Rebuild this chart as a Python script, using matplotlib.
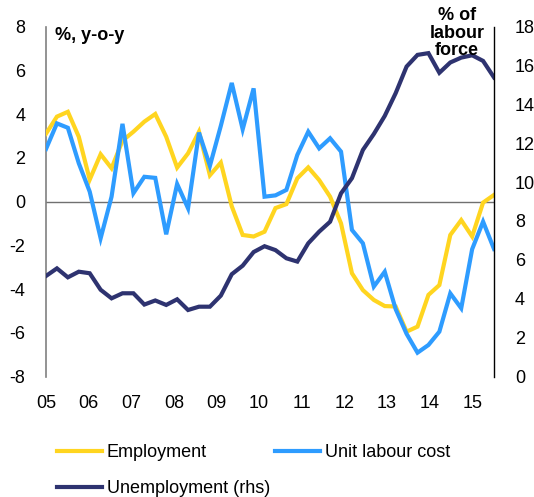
import matplotlib
matplotlib.use("Agg")
import matplotlib.pyplot as plt
import numpy as np

plt.rcParams['font.family'] = ['Liberation Sans', 'DejaVu Sans']

# Quarterly observations (index 0 = 2005Q1)
employment = [3.1, 3.88, 4.1, 2.96, 1.0, 2.16, 1.52, 2.78, 3.19, 3.65, 4.0,
              2.96, 1.55, 2.2, 3.19, 1.2, 1.78, -0.22, -1.53, -1.6, -1.38,
              -0.3, -0.12, 1.06, 1.56, 0.98, 0.22, -1.0, -3.28, -4.05, -4.5,
              -4.78, -4.8, -5.95, -5.72, -4.27, -3.82, -1.53, -0.85, -1.6,
              -0.05, 0.3]
unit_labour_cost = [2.4, 3.57, 3.37, 1.75, 0.45, -1.68, 0.22, 3.55, 0.38, 1.13,
                    1.08, -1.5, 0.8, -0.31, 3.15, 1.63, 3.46, 5.42, 3.3, 5.17,
                    0.22, 0.28, 0.53, 2.13, 3.19, 2.43, 2.89, 2.28, -1.3, -1.91,
                    -3.89, -3.21, -4.92, -6.05, -6.91, -6.56, -5.95, -4.2, -4.88,
                    -2.18, -0.92, -2.17]
unemployment = [5.17, 5.56, 5.1, 5.39, 5.31, 4.46, 4.02, 4.28, 4.28, 3.7, 3.91,
                3.68, 3.97, 3.42, 3.59, 3.59, 4.16, 5.26, 5.7, 6.4, 6.7, 6.5,
                6.08, 5.91, 6.85, 7.45, 7.96, 9.42, 10.2, 11.65, 12.47, 13.4,
                14.57, 15.94, 16.54, 16.63, 15.62, 16.15, 16.4, 16.52, 16.23,
                15.38]
year_labels = ['05', '06', '07', '08', '09', '10', '11', '12', '13', '14', '15']
left_ticks = [-8, -6, -4, -2, 0, 2, 4, 6, 8]
right_ticks = [0, 2, 4, 6, 8, 10, 12, 14, 16, 18]

c_emp = '#FFD520'
c_ulc = '#2E9CFF'
c_une = '#2E3370'

FS = 13

x = np.arange(len(employment))

fig = plt.figure(figsize=(5.34, 4.97), dpi=100)
ax = fig.add_axes([46/534, 1-376.5/497, (494-46)/534, 350/497])
ax2 = ax.twinx()

ax.axhline(0, color='#707070', lw=1.0, zorder=1)
l1, = ax.plot(x, employment, color=c_emp, lw=3.0, solid_joinstyle='miter', label='Employment', zorder=3)
l2, = ax.plot(x, unit_labour_cost, color=c_ulc, lw=3.0, solid_joinstyle='miter', label='Unit labour cost', zorder=4)
l3, = ax2.plot(x, unemployment, color=c_une, lw=3.0, solid_joinstyle='miter', label='Unemployment (rhs)')

ax.set_xlim(0, len(x) - 1)
ax.set_ylim(-8, 8)
ax2.set_ylim(0, 18)
ax.set_yticks(left_ticks)
ax.set_yticklabels([str(t) for t in left_ticks])
ax2.set_yticks(right_ticks)
ax.set_xticks(np.arange(len(year_labels)) * 3.9)
ax.set_xticklabels(year_labels)

for a in (ax, ax2):
    for s in ('top', 'bottom'):
        a.spines[s].set_visible(False)
ax.spines['right'].set_visible(False)
ax2.spines['left'].set_visible(False)
ax.spines['left'].set_color('#808080')
ax.spines['left'].set_linewidth(1.2)
ax2.spines['right'].set_color('black')
ax2.spines['right'].set_linewidth(1.0)

ax.tick_params(axis='y', length=0, pad=15, labelsize=FS)
ax.tick_params(axis='x', length=0, pad=13, labelsize=FS)
ax2.tick_params(axis='y', length=0, pad=15, labelsize=FS)

fig.text(55/534, 1-36/497, '%, y-o-y', fontsize=FS, fontweight='bold', ha='left', va='center')
fig.text(457/534, 1-7/497, '% of\nlabour\nforce', fontsize=FS, fontweight='bold',
         ha='center', va='top', linespacing=1.05)

fig.legend([l1, l3, l2], ['Employment', 'Unemployment (rhs)', 'Unit labour cost'],
           ncol=2, loc='upper left', bbox_to_anchor=(57/534, 1-444/497),
           frameon=False, fontsize=FS, handlelength=2.5, handletextpad=0.25,
           columnspacing=0.3, labelspacing=1.05, borderpad=0, borderaxespad=0)

fig.savefig('out.png', dpi=100)
